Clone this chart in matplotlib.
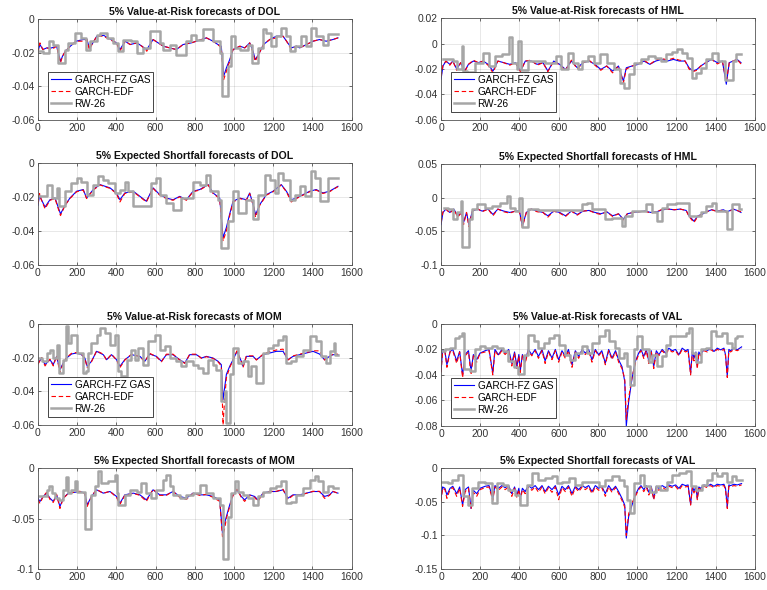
import numpy as np
import matplotlib.pyplot as plt
from matplotlib.ticker import FuncFormatter

plt.rcParams['font.family'] = ['Liberation Sans', 'DejaVu Sans']

# ---- DOL, 5% VaR ----
dol_var_t = [0, 10, 25, 45, 70, 95, 115, 125, 140, 165, 195, 230, 250, 262, 280, 300, 335, 365, 400, 418,
             445, 470, 505, 530, 555, 587, 613, 640, 672, 706, 740, 782, 808, 834, 859, 893, 918, 935, 947, 961,
             978, 995, 1030, 1055, 1080, 1097, 1108, 1125, 1150, 1182, 1216, 1250, 1268, 1292, 1318, 1335, 1369,
             1403, 1436, 1470, 1504, 1530]
dol_var_gas = [-0.019, -0.015, -0.018, -0.017, -0.017, -0.016, -0.025, -0.022, -0.019, -0.016,
               -0.013, -0.012, -0.012, -0.017, -0.014, -0.010, -0.0095, -0.0115, -0.014, -0.018,
               -0.013, -0.015, -0.014, -0.016, -0.018, -0.012, -0.014, -0.016, -0.017, -0.018,
               -0.015, -0.014, -0.013, -0.012, -0.011, -0.013, -0.015, -0.016, -0.034, -0.029,
               -0.024, -0.018, -0.016, -0.017, -0.014, -0.019, -0.024, -0.021, -0.015, -0.012,
               -0.010, -0.010, -0.013, -0.017, -0.016, -0.017, -0.015, -0.013, -0.012, -0.013,
               -0.012, -0.011]
dol_var_edf = [-0.020, -0.014, -0.018, -0.017, -0.018, -0.016, -0.026, -0.022, -0.019, -0.016,
               -0.013, -0.013, -0.012, -0.018, -0.014, -0.010, -0.010, -0.012, -0.014, -0.019,
               -0.013, -0.015, -0.014, -0.016, -0.019, -0.012, -0.014, -0.016, -0.017, -0.018,
               -0.015, -0.014, -0.013, -0.012, -0.011, -0.013, -0.015, -0.017, -0.036, -0.031,
               -0.025, -0.018, -0.016, -0.017, -0.014, -0.020, -0.025, -0.021, -0.015, -0.012,
               -0.011, -0.010, -0.013, -0.018, -0.016, -0.017, -0.015, -0.013, -0.012, -0.013,
               -0.012, -0.011]
dol_var_rw_t = [0, 27, 55, 78, 104, 138, 155, 188, 222, 245, 265, 299, 316, 350, 384, 409, 435, 477, 503, 537,
                570, 621, 638, 672, 706, 755, 783, 808, 842, 893, 927, 941, 969, 986, 1003, 1029, 1071, 1093, 1122,
                1148, 1165, 1190, 1216, 1241, 1267, 1284, 1309, 1343, 1369, 1394, 1419, 1453, 1479, 1530]
dol_var_rw = [-0.019, -0.020, -0.013, -0.015, -0.026, -0.018, -0.014, -0.008, -0.011, -0.018,
              -0.013, -0.009, -0.008, -0.011, -0.014, -0.019, -0.012, -0.013, -0.020, -0.017,
              -0.007, -0.014, -0.018, -0.015, -0.021, -0.013, -0.009, -0.012, -0.006, -0.013,
              -0.020, -0.046, -0.028, -0.010, -0.017, -0.018, -0.015, -0.026, -0.017, -0.006,
              -0.008, -0.016, -0.010, -0.005, -0.010, -0.019, -0.016, -0.010, -0.016, -0.005,
              -0.010, -0.015, -0.0085, -0.0085]

# ---- HML, 5% VaR ----
hml_var_t = [0, 10, 25, 45, 60, 80, 100, 120, 140, 165, 190, 215, 240, 265, 290, 320, 350, 380, 405, 430,
             460, 490, 520, 545, 575, 605, 635, 665, 695, 725, 755, 785, 815, 845, 875, 905, 930, 945, 975, 1005,
             1035, 1065, 1095, 1125, 1155, 1185, 1215, 1245, 1265, 1285, 1305, 1325, 1350, 1380, 1410, 1435,
             1455, 1470, 1490, 1510, 1530]
hml_var_gas = [-0.028, -0.0176, -0.0137, -0.0163, -0.0137, -0.020, -0.015, -0.0216, -0.0163, -0.0137,
               -0.015, -0.0137, -0.0163, -0.0216, -0.0137, -0.015, -0.0163, -0.015, -0.0216, -0.0137,
               -0.0137, -0.0163, -0.015, -0.0216, -0.0137, -0.0163, -0.0203, -0.0137, -0.019, -0.015,
               -0.0137, -0.0163, -0.0203, -0.0176, -0.0216, -0.0176, -0.0295, -0.019, -0.0176, -0.0163,
               -0.0137, -0.0163, -0.0137, -0.0124, -0.0137, -0.0124, -0.0137, -0.0137, -0.019, -0.0216,
               -0.0203, -0.0176, -0.015, -0.0124, -0.015, -0.0137, -0.032, -0.015, -0.0137, -0.0124,
               -0.015]
hml_var_edf = [-0.026, -0.017, -0.0137, -0.0170, -0.0137, -0.021, -0.015, -0.0225, -0.0163, -0.0130,
               -0.015, -0.0137, -0.0170, -0.023, -0.0137, -0.015, -0.0170, -0.015, -0.022, -0.0137,
               -0.0130, -0.0170, -0.015, -0.022, -0.0137, -0.0170, -0.021, -0.0130, -0.020, -0.015,
               -0.0130, -0.0170, -0.021, -0.0176, -0.023, -0.0176, -0.031, -0.020, -0.0176, -0.0163,
               -0.0130, -0.0163, -0.0130, -0.0115, -0.0130, -0.0115, -0.0130, -0.0137, -0.020, -0.022,
               -0.021, -0.0176, -0.015, -0.0124, -0.016, -0.0137, -0.030, -0.015, -0.0137, -0.0124,
               -0.016]
hml_var_rw_t = [10, 60, 80, 105, 112, 135, 175, 216, 245, 275, 310, 348, 360, 385, 395, 410, 445, 530, 585, 610,
                650, 675, 700, 720, 750, 780, 810, 845, 880, 915, 935, 960, 985, 1020, 1055, 1090, 1120, 1150,
                1180, 1205, 1230, 1255, 1280, 1300, 1325, 1350, 1380, 1415, 1450, 1490, 1505, 1530]
hml_var_rw = [-0.0124, -0.0137, -0.020, -0.002, -0.0216, -0.022, -0.015, -0.007, -0.018, -0.0098,
              -0.0085, 0.005, -0.015, -0.020, 0.002, -0.021, -0.0137, -0.015, -0.0098, -0.020,
              -0.007, -0.015, -0.020, -0.0137, -0.0098, -0.015, -0.0085, -0.015, -0.020, -0.031,
              -0.035, -0.024, -0.015, -0.0124, -0.0098, -0.011, -0.0137, -0.0085, -0.0065, -0.0045,
              -0.0072, -0.011, -0.027, -0.023, -0.019, -0.0124, -0.0072, -0.0137, -0.029, -0.0137,
              -0.0085, -0.0085]

# ---- DOL, 5% ES ----
dol_es_t = [0, 8, 15, 36, 61, 87, 109, 115, 138, 163, 197, 231, 248, 282, 316, 367, 400, 418, 443, 486,
            520, 553, 587, 621, 655, 689, 723, 757, 791, 825, 868, 893, 927, 944, 961, 978, 995, 1029, 1063, 1080,
            1100, 1110, 1131, 1165, 1199, 1241, 1267, 1292, 1318, 1352, 1386, 1419, 1453, 1487, 1530]
dol_es_gas = [-0.025, -0.019, -0.021, -0.026, -0.0217, -0.0207, -0.028, -0.030, -0.025, -0.0207,
              -0.0167, -0.0157, -0.0207, -0.0157, -0.0128, -0.0147, -0.0177, -0.0217, -0.0177, -0.0167,
              -0.0197, -0.0226, -0.0147, -0.0187, -0.0207, -0.0217, -0.0197, -0.0217, -0.0167, -0.0157,
              -0.0128, -0.0177, -0.0207, -0.044, -0.038, -0.030, -0.0226, -0.0207, -0.0217, -0.0177,
              -0.0256, -0.0305, -0.0246, -0.0187, -0.0167, -0.0128, -0.0167, -0.0217, -0.0207, -0.0187,
              -0.0167, -0.0157, -0.0177, -0.0167, -0.0138]
dol_es_edf = [-0.024, -0.018, -0.021, -0.027, -0.022, -0.021, -0.029, -0.031, -0.025, -0.021,
              -0.017, -0.016, -0.021, -0.016, -0.013, -0.015, -0.018, -0.023, -0.018, -0.017,
              -0.020, -0.023, -0.015, -0.019, -0.021, -0.022, -0.020, -0.022, -0.017, -0.016,
              -0.013, -0.018, -0.021, -0.046, -0.040, -0.031, -0.023, -0.021, -0.022, -0.018,
              -0.026, -0.032, -0.025, -0.019, -0.017, -0.013, -0.017, -0.023, -0.021, -0.019,
              -0.017, -0.016, -0.018, -0.017, -0.014]
dol_es_rw_t = [0, 44, 70, 95, 109, 138, 171, 197, 222, 251, 282, 307, 333, 358, 392, 418, 443, 460, 486, 579,
               604, 621, 655, 689, 732, 791, 825, 859, 876, 918, 935, 969, 995, 1020, 1063, 1097, 1122, 1156,
               1182, 1207, 1224, 1250, 1284, 1309, 1335, 1360, 1394, 1411, 1436, 1479, 1530]
dol_es_rw = [-0.0197, -0.0128, -0.0207, -0.015, -0.0256, -0.0167, -0.0118, -0.0089, -0.011, -0.0187,
             -0.0128, -0.0079, -0.0098, -0.0118, -0.0177, -0.0157, -0.011, -0.0167, -0.0256, -0.0118,
             -0.0089, -0.0187, -0.0236, -0.0275, -0.0207, -0.011, -0.0128, -0.0069, -0.0167, -0.0216,
             -0.050, -0.0344, -0.0167, -0.0295, -0.0216, -0.033, -0.0187, -0.0069, -0.0098, -0.0177,
             -0.0059, -0.0098, -0.0216, -0.0187, -0.0138, -0.0197, -0.0049, -0.0089, -0.0226, -0.0089,
             -0.0089]

# ---- HML, 5% ES ----
hml_es_t = [0, 10, 25, 45, 65, 85, 105, 115, 130, 142, 160, 185, 210, 240, 265, 290, 320, 350, 380, 400,
            415, 435, 460, 490, 520, 545, 575, 605, 635, 665, 695, 725, 755, 785, 815, 845, 875, 905, 930, 950,
            980, 1010, 1040, 1070, 1100, 1130, 1160, 1190, 1220, 1250, 1265, 1290, 1310, 1330, 1355, 1380,
            1410, 1440, 1460, 1490, 1510, 1530]
hml_es_gas = [-0.040, -0.022, -0.017, -0.022, -0.017, -0.027, -0.022, -0.037, -0.022, -0.040,
              -0.020, -0.017, -0.020, -0.017, -0.025, -0.017, -0.020, -0.022, -0.020, -0.020,
              -0.042, -0.022, -0.017, -0.020, -0.022, -0.027, -0.020, -0.022, -0.027, -0.020,
              -0.025, -0.020, -0.019, -0.022, -0.024, -0.021, -0.027, -0.024, -0.032, -0.024,
              -0.022, -0.021, -0.020, -0.022, -0.021, -0.018, -0.017, -0.018, -0.017, -0.019,
              -0.027, -0.035, -0.027, -0.025, -0.021, -0.018, -0.020, -0.018, -0.021, -0.017,
              -0.019, -0.022]
hml_es_edf = [-0.037, -0.021, -0.017, -0.023, -0.017, -0.029, -0.022, -0.040, -0.022, -0.043,
              -0.020, -0.016, -0.021, -0.017, -0.027, -0.017, -0.021, -0.023, -0.020, -0.021,
              -0.044, -0.022, -0.017, -0.021, -0.022, -0.029, -0.020, -0.023, -0.028, -0.020,
              -0.026, -0.020, -0.019, -0.023, -0.025, -0.021, -0.028, -0.024, -0.033, -0.024,
              -0.022, -0.021, -0.020, -0.023, -0.021, -0.017, -0.017, -0.018, -0.017, -0.019,
              -0.028, -0.037, -0.028, -0.025, -0.021, -0.018, -0.021, -0.018, -0.023, -0.017,
              -0.019, -0.021]
hml_es_rw_t = [15, 37, 63, 80, 100, 109, 143, 157, 182, 225, 259, 302, 336, 353, 378, 398, 412, 446, 497, 719,
               745, 770, 838, 872, 923, 940, 975, 1043, 1077, 1102, 1128, 1153, 1196, 1264, 1324, 1349, 1383,
               1400, 1460, 1486, 1520, 1530]
hml_es_rw = [-0.015, -0.017, -0.032, -0.022, -0.005, -0.073, -0.032, -0.017, -0.010, -0.015,
             -0.012, -0.0074, 0.0025, -0.015, -0.020, 0.000, -0.044, -0.017, -0.019, -0.010,
             -0.0074, -0.017, -0.032, -0.030, -0.042, -0.027, -0.020, -0.010, -0.022, -0.035,
             -0.015, -0.010, -0.0074, -0.027, -0.022, -0.012, -0.0074, -0.020, -0.047, -0.010,
             -0.017, -0.017]

# ---- MOM, 5% VaR ----
mom_var_t = [0, 19, 36, 61, 78, 95, 112, 129, 146, 171, 197, 222, 239, 251, 273, 299, 333, 350, 375, 401,
             418, 443, 477, 520, 545, 570, 604, 630, 655, 689, 723, 749, 774, 808, 834, 859, 893, 918, 935, 944,
             952, 961, 978, 995, 1015, 1037, 1046, 1063, 1097, 1114, 1148, 1182, 1216, 1250, 1275, 1301, 1335,
             1369, 1403, 1436, 1462, 1487, 1504, 1530]
mom_var_gas = [-0.0234, -0.0203, -0.0242, -0.0213, -0.0242, -0.0193, -0.0272, -0.0232, -0.0203, -0.0179,
               -0.0173, -0.0183, -0.0203, -0.0252, -0.0222, -0.0163, -0.0183, -0.0213, -0.0183, -0.0213,
               -0.0252, -0.0213, -0.0183, -0.0193, -0.0222, -0.0179, -0.0193, -0.0222, -0.0183, -0.0183,
               -0.0213, -0.0232, -0.0183, -0.0183, -0.0203, -0.0193, -0.0203, -0.0222, -0.0242, -0.045,
               -0.038, -0.0300, -0.0252, -0.0213, -0.0163, -0.0222, -0.0252, -0.0193, -0.0193, -0.0213,
               -0.0183, -0.0173, -0.0163, -0.0163, -0.0213, -0.0193, -0.0183, -0.0173, -0.0163, -0.0179,
               -0.0213, -0.0193, -0.0183, -0.0183]
mom_var_edf = [-0.0240, -0.0200, -0.0250, -0.0210, -0.0250, -0.0190, -0.0290, -0.0235, -0.0200, -0.0175,
               -0.0170, -0.0180, -0.0205, -0.0260, -0.0225, -0.0160, -0.0180, -0.0215, -0.0180, -0.0215,
               -0.0260, -0.0215, -0.0180, -0.0195, -0.0225, -0.0175, -0.0195, -0.0225, -0.0180, -0.0180,
               -0.0215, -0.0235, -0.0180, -0.0180, -0.0205, -0.0195, -0.0205, -0.0225, -0.0250, -0.060,
               -0.045, -0.0320, -0.0260, -0.0215, -0.0160, -0.0225, -0.0260, -0.0190, -0.0190, -0.0215,
               -0.0180, -0.0165, -0.0155, -0.0150, -0.0215, -0.0190, -0.0180, -0.0170, -0.0160, -0.0160,
               -0.0215, -0.0195, -0.0180, -0.0180]
mom_var_rw_t = [0, 19, 44, 61, 78, 95, 109, 129, 143, 155, 171, 197, 231, 245, 256, 273, 299, 316, 341, 367,
                392, 409, 426, 452, 477, 494, 511, 537, 562, 596, 621, 647, 672, 706, 732, 757, 791, 817, 842, 868,
                893, 910, 935, 952, 961, 978, 995, 1020, 1046, 1071, 1088, 1114, 1148, 1173, 1199, 1224, 1250,
                1267, 1292, 1318, 1352, 1386, 1419, 1445, 1470, 1487, 1510, 1515, 1530]
mom_var_rw = [-0.0203, -0.0222, -0.0173, -0.0153, -0.0203, -0.0123, -0.029, -0.0213, -0.0014, -0.0113,
              -0.0064, -0.0173, -0.029, -0.028, -0.0173, -0.0113, -0.0064, -0.0024, -0.0054, -0.0123,
              -0.0064, -0.028, -0.031, -0.0213, -0.0153, -0.0213, -0.0143, -0.0242, -0.0103, -0.0064,
              -0.0153, -0.0133, -0.0203, -0.0222, -0.0252, -0.0222, -0.0242, -0.0262, -0.029, -0.0213,
              -0.0242, -0.0272, -0.046, -0.040, -0.059, -0.030, -0.0143, -0.0232, -0.0222, -0.031,
              -0.0252, -0.035, -0.0173, -0.0143, -0.0123, -0.0093, -0.0074, -0.0232, -0.0222, -0.0193,
              -0.0153, -0.0074, -0.0103, -0.0193, -0.0232, -0.0163, -0.0113, -0.0183, -0.0183]

# ---- VAL, shared GARCH sample points ----
val_t = [0, 8, 20, 30, 46, 60, 80, 95, 110, 123, 140, 153, 165, 182, 199, 225, 245, 264, 275, 293,
         310, 327, 345, 361, 375, 387, 397, 404, 415, 429, 445, 463, 480, 497, 515, 531, 548, 566, 583, 600,
         617, 634, 650, 668, 685, 702, 720, 736, 753, 770, 787, 804, 820, 838, 855, 872, 890, 906, 923, 937,
         945, 957, 974, 991, 1008, 1020, 1034, 1047, 1060, 1072, 1085, 1098, 1111, 1128, 1145, 1162, 1179,
         1196, 1213, 1230, 1247, 1260, 1273, 1282, 1290, 1300, 1307, 1315, 1324, 1341, 1358, 1375, 1392,
         1409, 1426, 1443, 1451, 1460, 1468, 1477, 1494, 1511, 1533]
val_var_gas = [-0.037, -0.021, -0.0216, -0.032, -0.0216, -0.020, -0.029, -0.0216, -0.040, -0.024,
               -0.021, -0.037, -0.024, -0.028, -0.0229, -0.021, -0.020, -0.0387, -0.020, -0.0242,
               -0.020, -0.0229, -0.020, -0.031, -0.022, -0.0335, -0.024, -0.037, -0.024, -0.0295,
               -0.020, -0.0242, -0.020, -0.0255, -0.020, -0.029, -0.021, -0.0268, -0.020, -0.0282,
               -0.021, -0.0255, -0.020, -0.032, -0.021, -0.0255, -0.020, -0.0229, -0.020, -0.0282,
               -0.020, -0.0242, -0.021, -0.0308, -0.020, -0.0268, -0.021, -0.0282, -0.0335, -0.045,
               -0.080, -0.061, -0.043, -0.0295, -0.0229, -0.020, -0.0255, -0.020, -0.0295, -0.021,
               -0.0335, -0.021, -0.0242, -0.020, -0.0229, -0.019, -0.021, -0.020, -0.0242, -0.019,
               -0.021, -0.020, -0.0387, -0.021, -0.027, -0.022, -0.0335, -0.022, -0.0242, -0.020,
               -0.021, -0.019, -0.0216, -0.019, -0.0203, -0.019, -0.0242, -0.041, -0.020, -0.021,
               -0.019, -0.0203, -0.018]
val_var_edf = [-0.038, -0.022, -0.022, -0.034, -0.022, -0.021, -0.031, -0.022, -0.042, -0.025,
               -0.022, -0.040, -0.025, -0.030, -0.023, -0.022, -0.021, -0.040, -0.021, -0.025,
               -0.021, -0.024, -0.021, -0.033, -0.023, -0.035, -0.025, -0.038, -0.025, -0.031,
               -0.021, -0.025, -0.021, -0.027, -0.021, -0.031, -0.022, -0.028, -0.021, -0.030,
               -0.022, -0.027, -0.021, -0.034, -0.022, -0.027, -0.021, -0.024, -0.021, -0.030,
               -0.021, -0.025, -0.022, -0.032, -0.021, -0.028, -0.022, -0.030, -0.035, -0.043,
               -0.075, -0.058, -0.042, -0.031, -0.024, -0.021, -0.027, -0.021, -0.031, -0.022,
               -0.035, -0.022, -0.025, -0.021, -0.024, -0.020, -0.022, -0.021, -0.025, -0.020,
               -0.022, -0.021, -0.040, -0.022, -0.029, -0.023, -0.035, -0.023, -0.025, -0.021,
               -0.022, -0.020, -0.022, -0.020, -0.021, -0.020, -0.025, -0.042, -0.021, -0.022,
               -0.020, -0.021, -0.019]
val_var_rw_t = [3, 20, 46, 72, 92, 109, 119, 148, 174, 199, 225, 259, 284, 318, 344, 370, 395, 421, 446, 472,
                497, 523, 549, 574, 600, 634, 659, 685, 719, 745, 770, 804, 838, 855, 889, 906, 932, 949, 966, 983,
                1000, 1026, 1060, 1077, 1102, 1128, 1145, 1170, 1247, 1264, 1278, 1298, 1324, 1349, 1375, 1400,
                1434, 1460, 1486, 1499, 1511, 1536]
val_var_rw = [-0.0216, -0.020, -0.019, -0.011, -0.0097, -0.007, -0.035, -0.037, -0.020, -0.0176,
              -0.019, -0.0176, -0.019, -0.0216, -0.029, -0.0335, -0.039, -0.024, -0.0084, -0.0137,
              -0.019, -0.015, -0.011, -0.0084, -0.0163, -0.024, -0.028, -0.0229, -0.0176, -0.0229,
              -0.015, -0.0097, -0.0045, -0.0137, -0.019, -0.0268, -0.0229, -0.033, -0.048, -0.020,
              -0.0097, -0.020, -0.0295, -0.0242, -0.033, -0.0255, -0.0163, -0.0097, -0.0071, -0.0032,
              -0.0229, -0.0295, -0.020, -0.019, -0.0058, -0.0097, -0.0071, -0.015, -0.019, -0.011,
              -0.0097, -0.0097]

# ---- MOM, 5% ES ----
mom_es_t = [0, 10, 27, 44, 61, 78, 95, 112, 129, 155, 180, 214, 239, 251, 273, 299, 333, 367, 401, 418,
            443, 486, 520, 553, 587, 621, 655, 689, 723, 757, 791, 825, 859, 893, 927, 941, 952, 961, 978, 995,
            1015, 1037, 1054, 1080, 1105, 1122, 1148, 1182, 1216, 1250, 1275, 1301, 1335, 1369, 1403, 1436,
            1462, 1487, 1504, 1530]
mom_es_gas = [-0.0298, -0.0331, -0.0281, -0.0248, -0.0298, -0.0331, -0.0265, -0.0381, -0.0298, -0.0248,
              -0.0242, -0.0232, -0.0248, -0.0364, -0.0281, -0.0215, -0.0248, -0.0232, -0.0281, -0.0348,
              -0.0265, -0.0248, -0.0265, -0.0315, -0.0215, -0.0265, -0.0265, -0.0232, -0.0281, -0.0298,
              -0.0248, -0.0265, -0.0265, -0.0281, -0.0315, -0.0645, -0.0546, -0.048, -0.0364, -0.0265,
              -0.0215, -0.0281, -0.0315, -0.0265, -0.0281, -0.0315, -0.0248, -0.0232, -0.0232, -0.0215,
              -0.0298, -0.0265, -0.0265, -0.0248, -0.0232, -0.0232, -0.0281, -0.0265, -0.0232, -0.0248]
mom_es_edf = [-0.031, -0.035, -0.028, -0.024, -0.031, -0.034, -0.026, -0.040, -0.030, -0.025,
              -0.024, -0.023, -0.025, -0.038, -0.028, -0.021, -0.025, -0.023, -0.029, -0.036,
              -0.027, -0.025, -0.027, -0.033, -0.021, -0.027, -0.027, -0.023, -0.029, -0.031,
              -0.025, -0.027, -0.026, -0.029, -0.033, -0.068, -0.060, -0.050, -0.038, -0.027,
              -0.021, -0.029, -0.033, -0.027, -0.029, -0.033, -0.025, -0.023, -0.023, -0.021,
              -0.031, -0.027, -0.027, -0.025, -0.023, -0.023, -0.030, -0.027, -0.023, -0.025]
mom_es_rw_t = [0, 44, 58, 70, 87, 109, 129, 143, 155, 171, 188, 200, 239, 273, 290, 307, 324, 358, 392, 401,
               409, 443, 469, 503, 528, 553, 579, 604, 638, 655, 672, 689, 723, 757, 791, 825, 859, 893, 927, 944,
               969, 986, 1003, 1020, 1046, 1071, 1097, 1122, 1148, 1182, 1216, 1241, 1267, 1292, 1318, 1352,
               1386, 1411, 1428, 1453, 1479, 1504, 1530]
mom_es_rw = [-0.0281, -0.0215, -0.0182, -0.0248, -0.0298, -0.0315, -0.0215, -0.0089, -0.0248, -0.0215,
             -0.0132, -0.0232, -0.0603, -0.0265, -0.0182, -0.0033, -0.0149, -0.0132, -0.0066, -0.0248,
             -0.0364, -0.0265, -0.0215, -0.0232, -0.0149, -0.0248, -0.0298, -0.0215, -0.0116, -0.0066,
             -0.0182, -0.0265, -0.0298, -0.0265, -0.0248, -0.0166, -0.0248, -0.0298, -0.0364, -0.090,
             -0.048, -0.0248, -0.0132, -0.0232, -0.0265, -0.0298, -0.0364, -0.0281, -0.0232, -0.0199,
             -0.0182, -0.0132, -0.0348, -0.0331, -0.0265, -0.0199, -0.0116, -0.0076, -0.0132, -0.0232,
             -0.0182, -0.0199, -0.0199]

# ---- VAL, 5% ES ----
val_es_gas = [-0.045, -0.028, -0.030, -0.040, -0.030, -0.027, -0.038, -0.028, -0.055, -0.032,
              -0.028, -0.060, -0.033, -0.038, -0.030, -0.027, -0.026, -0.045, -0.026, -0.030,
              -0.026, -0.029, -0.026, -0.038, -0.028, -0.040, -0.030, -0.045, -0.030, -0.035,
              -0.026, -0.030, -0.026, -0.032, -0.026, -0.035, -0.027, -0.032, -0.026, -0.040,
              -0.027, -0.032, -0.026, -0.038, -0.027, -0.032, -0.026, -0.029, -0.026, -0.035,
              -0.026, -0.030, -0.027, -0.038, -0.026, -0.033, -0.027, -0.035, -0.045, -0.055,
              -0.104, -0.072, -0.055, -0.040, -0.030, -0.026, -0.032, -0.026, -0.036, -0.027,
              -0.045, -0.027, -0.030, -0.026, -0.029, -0.025, -0.027, -0.025, -0.030, -0.024,
              -0.026, -0.025, -0.054, -0.027, -0.034, -0.028, -0.045, -0.028, -0.030, -0.025,
              -0.027, -0.024, -0.027, -0.024, -0.025, -0.024, -0.030, -0.058, -0.025, -0.026,
              -0.024, -0.025, -0.023]
val_es_edf = [-0.050, -0.030, -0.032, -0.045, -0.032, -0.029, -0.042, -0.030, -0.057, -0.035,
              -0.030, -0.061, -0.036, -0.042, -0.032, -0.029, -0.028, -0.048, -0.028, -0.033,
              -0.028, -0.032, -0.028, -0.042, -0.030, -0.044, -0.032, -0.048, -0.032, -0.038,
              -0.028, -0.033, -0.028, -0.036, -0.028, -0.038, -0.029, -0.036, -0.028, -0.047,
              -0.029, -0.035, -0.028, -0.042, -0.029, -0.035, -0.028, -0.032, -0.028, -0.038,
              -0.028, -0.033, -0.029, -0.042, -0.028, -0.036, -0.029, -0.038, -0.048, -0.058,
              -0.100, -0.068, -0.052, -0.042, -0.032, -0.028, -0.035, -0.028, -0.040, -0.029,
              -0.047, -0.029, -0.033, -0.028, -0.032, -0.027, -0.029, -0.027, -0.033, -0.026,
              -0.028, -0.027, -0.055, -0.029, -0.037, -0.030, -0.047, -0.030, -0.032, -0.027,
              -0.029, -0.026, -0.029, -0.026, -0.027, -0.026, -0.032, -0.060, -0.027, -0.028,
              -0.026, -0.027, -0.025]
val_es_rw_t = [3, 37, 55, 89, 114, 136, 160, 191, 225, 259, 284, 318, 344, 378, 404, 438, 463, 497, 531, 566,
               591, 617, 651, 685, 719, 804, 838, 872, 906, 932, 949, 966, 983, 1017, 1034, 1068, 1094, 1119,
               1153, 1179, 1213, 1247, 1273, 1298, 1332, 1358, 1383, 1409, 1434, 1460, 1486, 1503, 1536]
val_es_rw = [-0.020, -0.022, -0.017, -0.010, -0.042, -0.055, -0.030, -0.020, -0.022, -0.052,
             -0.022, -0.025, -0.032, -0.040, -0.055, -0.025, -0.0075, -0.017, -0.015, -0.012,
             -0.022, -0.020, -0.015, -0.025, -0.020, -0.027, -0.017, -0.012, -0.017, -0.027,
             -0.047, -0.067, -0.022, -0.010, -0.027, -0.035, -0.027, -0.032, -0.020, -0.010,
             -0.0075, -0.005, -0.027, -0.032, -0.025, -0.017, -0.0075, -0.012, -0.0075, -0.020,
             -0.012, -0.017, -0.017]

series_names = ['GARCH-FZ GAS', 'GARCH-EDF', 'RW-26']
xticks = [0, 200, 400, 600, 800, 1000, 1200, 1400, 1600]

# figure fractions: [left, bottom, width, height]
L, R = 0.0495, 0.575
W = 0.409
panels = [
    ([L, 0.797, W, 0.170], '5% Value-at-Risk forecasts of DOL',
     dol_var_t, dol_var_gas, dol_var_edf, dol_var_rw_t, dol_var_rw, (-0.06, 0), [-0.06, -0.04, -0.02, 0], True),
    ([R, 0.797, W, 0.172], '5% Value-at-Risk forecasts of HML',
     hml_var_t, hml_var_gas, hml_var_edf, hml_var_rw_t, hml_var_rw, (-0.06, 0.02),
     [-0.06, -0.04, -0.02, 0, 0.02], True),
    ([L, 0.551, W, 0.173], '5% Expected Shortfall forecasts of DOL',
     dol_es_t, dol_es_gas, dol_es_edf, dol_es_rw_t, dol_es_rw, (-0.06, 0), [-0.06, -0.04, -0.02, 0], False),
    ([R, 0.551, W, 0.171], '5% Expected Shortfall forecasts of HML',
     hml_es_t, hml_es_gas, hml_es_edf, hml_es_rw_t, hml_es_rw, (-0.1, 0.05), [-0.1, -0.05, 0, 0.05], False),
    ([L, 0.280, W, 0.171], '5% Value-at-Risk forecasts of MOM',
     mom_var_t, mom_var_gas, mom_var_edf, mom_var_rw_t, mom_var_rw, (-0.06, 0), [-0.06, -0.04, -0.02, 0], True),
    ([R, 0.278, W, 0.173], '5% Value-at-Risk forecasts of VAL',
     val_t, val_var_gas, val_var_edf, val_var_rw_t, val_var_rw, (-0.08, 0),
     [-0.08, -0.06, -0.04, -0.02, 0], True),
    ([L, 0.0356, W, 0.171], '5% Expected Shortfall forecasts of MOM',
     mom_es_t, mom_es_gas, mom_es_edf, mom_es_rw_t, mom_es_rw, (-0.1, 0), [-0.1, -0.05, 0], False),
    ([R, 0.0356, W, 0.171], '5% Expected Shortfall forecasts of VAL',
     val_t, val_es_gas, val_es_edf, val_es_rw_t, val_es_rw, (-0.15, 0), [-0.15, -0.1, -0.05, 0], False),
]

fmt = FuncFormatter(lambda v, pos: '%g' % round(v, 6))

fig = plt.figure(figsize=(7.67, 5.90), dpi=100)

for pos, title, t, gas, edf, rw_t, rw, ylim, yticks, show_leg in panels:
    ax = fig.add_axes(pos)
    ax.plot(t, gas, color='#0000ff', lw=0.8, label=series_names[0])
    ax.plot(t, edf, color='#ff0000', lw=0.8, ls=(0, (4, 2.5)), label=series_names[1])
    ax.plot(rw_t, rw, color='#a6a6a6', lw=1.8, drawstyle='steps-post', label=series_names[2])
    ax.set_xlim(0, 1600)
    ax.set_ylim(*ylim)
    ax.set_xticks(xticks)
    ax.set_yticks(yticks)
    ax.yaxis.set_major_formatter(fmt)
    ax.grid(True, color='#262626', alpha=0.15, lw=0.5)
    ax.tick_params(direction='in', length=2.5, width=0.5, labelsize=7.4, colors='#333333',
                   top=True, right=True, pad=2.5)
    for s in ax.spines.values():
        s.set_color('#555555')
        s.set_linewidth(0.6)
    ax.set_title(title, fontsize=7.6, fontweight='bold', color='#111111', pad=3)
    if show_leg:
        leg = ax.legend(loc='lower left', bbox_to_anchor=(0.032, 0.08), fontsize=7.2, fancybox=False,
                        edgecolor='#262626', framealpha=1, handlelength=2.0, borderpad=0.3,
                        labelspacing=0.2, handletextpad=0.35, borderaxespad=0)
        leg.get_frame().set_linewidth(0.6)

fig.savefig('out.png', dpi=100)
